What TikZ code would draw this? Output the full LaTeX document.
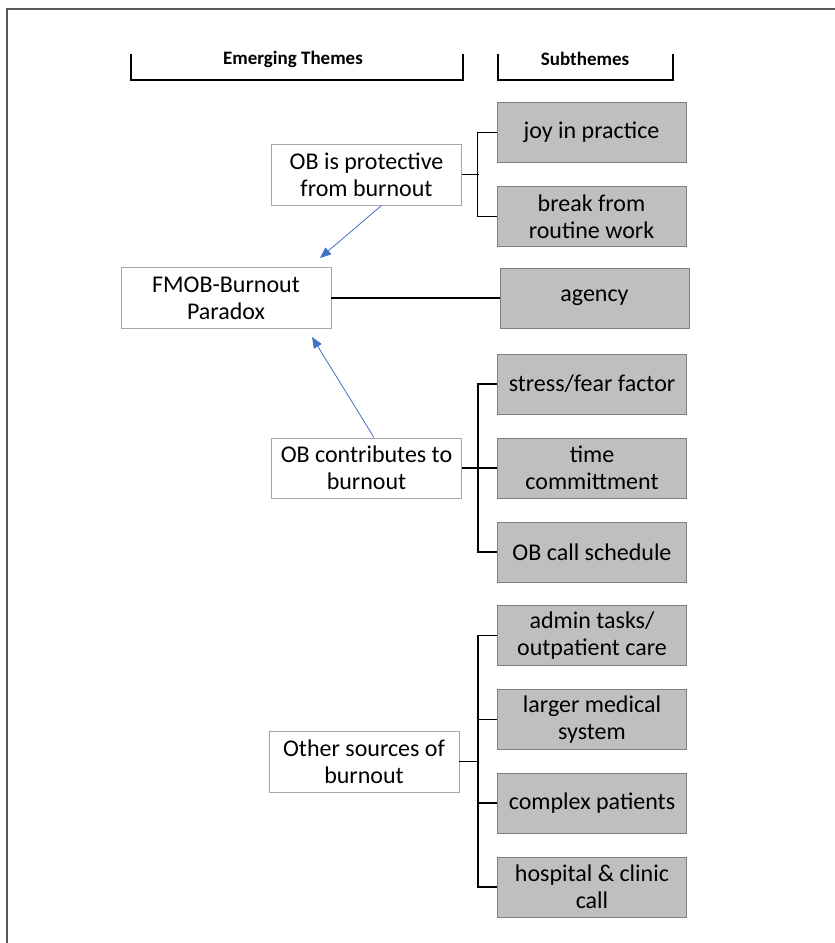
\documentclass[tikz,border=0pt]{standalone}
\usepackage{fontspec}
\setmainfont{Carlito}
\usetikzlibrary{arrows.meta}
\definecolor{boxgray}{HTML}{BFBFBF}
\definecolor{gborder}{HTML}{7F7F7F}
\definecolor{wborder}{HTML}{A6A6A6}
\definecolor{arrblue}{HTML}{4472C4}
\definecolor{framec}{HTML}{595959}
\tikzset{
  theme/.style={draw=wborder, fill=white, line width=0.9pt, minimum width=190pt, minimum height=61pt, inner sep=0pt, align=center, font=\fontsize{24}{27}\selectfont},
  sub/.style={draw=gborder, fill=boxgray, line width=0.9pt, minimum width=189pt, minimum height=60pt, inner sep=0pt, align=center, font=\fontsize{24}{27}\selectfont},
  head/.style={font=\bfseries\fontsize{19}{22}\selectfont, inner sep=0pt},
  conn/.style={draw=black, line width=1.4pt},
  arr/.style={draw=arrblue, line width=0.8pt, -{Triangle[length=11pt,width=9pt]}},
  brk/.style={draw=black, line width=1.2pt}
}
\begin{document}
\begin{tikzpicture}[x=1pt,y=-1pt]
\useasboundingbox (0,0) rectangle (835,943);
\draw[line width=2pt, framec] (7,943) -- (7,9) -- (835,9);

% headers
\node[head] (h1) at (293,59) {Emerging Themes};
\node[head] (h2) at (585,59) {Subthemes};
\draw[brk] (131,54) -- (131,80) -- (463,80) -- (463,54);
\draw[brk] (498,54) -- (498,80) -- (673,80) -- (673,54);

% theme boxes
\node[theme] (prot) at (366.5,174.5) {OB is protective\\from burnout};
\node[theme, minimum width=210pt] (fmob) at (226,298) {FMOB-Burnout\\Paradox};
\node[theme, minimum height=60pt] (contr) at (366.5,468) {OB contributes to\\burnout};
\node[theme] (other) at (364,761.5) {Other sources of\\burnout};

% subtheme boxes
\node[sub] (joy) at (591.5,132.5) {joy in practice};
\node[sub] (brkw) at (591.5,216.5) {break from\\routine work};
\node[sub] (agency) at (594.5,298) {agency};
\node[sub] (stress) at (592,384) {stress/fear factor};
\node[sub] (time) at (592,468) {time\\committment};
\node[sub] (obcall) at (592,552) {OB call schedule};
\node[sub] (admin) at (592,635.5) {admin tasks/\\outpatient care};
\node[sub] (larger) at (592,719.5) {larger medical\\system};
\node[sub] (complex) at (592,803) {complex patients};
\node[sub] (hosp) at (592,887) {hospital \& clinic\\call};

% connectors
\draw[conn] (prot.east) -- ++(17,0);
\draw[conn] (joy.west) -- ++(-19,0) |- (brkw.west);
\draw[conn] (fmob.east) -- (agency.west);
\draw[conn] (contr.east) -- (time.west);
\draw[conn] (stress.west) -- ++(-19,0) |- (obcall.west);
\draw[conn] (other.east) -- ++(19,0);
\draw[conn] (admin.west) -- ++(-19,0) |- (hosp.west);
\draw[conn] (larger.west) -- ++(-19,0);
\draw[conn] (complex.west) -- ++(-19,0);

% arrows
\coordinate (t1) at (320,258);
\coordinate (t2) at (312,337);
\draw[arr] ([xshift=15pt]prot.south) -- (t1);
\draw[arr] ([xshift=7.5pt]contr.north) -- (t2);
\end{tikzpicture}
\end{document}
